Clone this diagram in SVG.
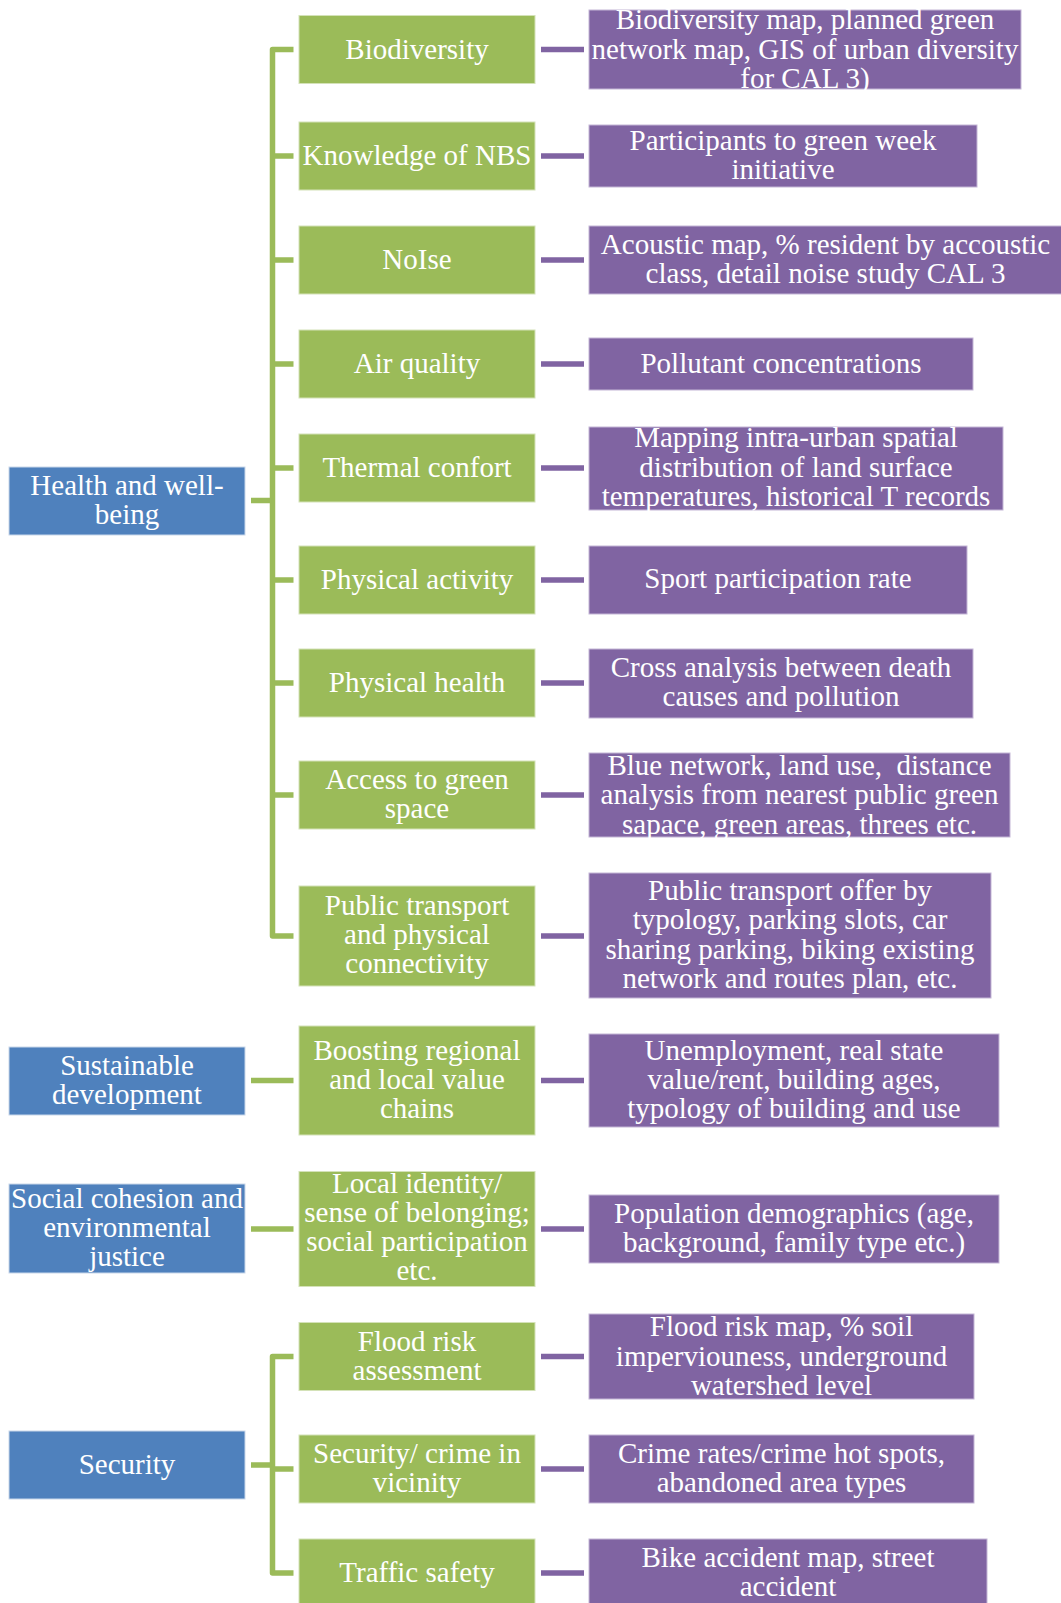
<svg xmlns="http://www.w3.org/2000/svg" width="1061" height="1603" viewBox="0 0 1061 1603">
  <style>
    .blue { fill: #4F81BD; stroke: #C9D7EA; stroke-width: 1; }
    .green { fill: #9BBB59; stroke: #D4E2B8; stroke-width: 1; }
    .purple { fill: #8064A2; stroke: #C4B6D6; stroke-width: 1; }
    .gl { fill: none; stroke: #9BBB59; stroke-width: 5.5; stroke-linejoin: round; }
    .pl { fill: none; stroke: #8064A2; stroke-width: 5.5; }
    text { font-family: "Liberation Serif", "Times New Roman", serif; font-size: 29px; fill: #FFFFFF; text-anchor: middle; }
  </style>
  <rect width="1061" height="1603" fill="#FFFFFF"/>

  <!-- connectors -->
  <g id="connectors">
    <!-- Health and well-being branch -->
    <path class="gl" d="M251 500.5 H272.5 M293.5 49.5 H272.5 V936 H293.5 M272.5 156 H293.5 M272.5 260 H293.5 M272.5 364 H293.5 M272.5 468 H293.5 M272.5 580 H293.5 M272.5 683 H293.5 M272.5 795 H293.5"/>
    <!-- Sustainable development -->
    <path class="gl" d="M251 1080.5 H293.5"/>
    <!-- Social cohesion -->
    <path class="gl" d="M251 1229 H293.5"/>
    <!-- Security branch -->
    <path class="gl" d="M251 1465 H272.5 M293.5 1356.5 H272.5 V1573 H293.5 M272.5 1469 H293.5"/>
    <!-- indicator links -->
    <path class="pl" d="M541 49.5 H584 M541 156 H584 M541 260 H584 M541 364 H584 M541 468 H584 M541 580 H584 M541 683 H584 M541 795 H584 M541 936 H584 M541 1080.5 H584 M541 1229 H584 M541 1356.5 H584 M541 1469 H584 M541 1573 H584"/>
  </g>

  <!-- themes -->
  <g id="theme-health">
    <rect class="blue" x="9" y="467" width="236" height="68"/>
    <text x="127" y="495">Health and well-</text>
    <text x="127" y="524">being</text>
  </g>
  <g id="theme-sustainable">
    <rect class="blue" x="9" y="1047" width="236" height="68"/>
    <text x="127" y="1075">Sustainable</text>
    <text x="127" y="1104">development</text>
  </g>
  <g id="theme-social">
    <rect class="blue" x="9" y="1184" width="236" height="89"/>
    <text x="127" y="1208">Social cohesion and</text>
    <text x="127" y="1237">environmental</text>
    <text x="127" y="1266">justice</text>
  </g>
  <g id="theme-security">
    <rect class="blue" x="9" y="1431" width="236" height="68"/>
    <text x="127" y="1474">Security</text>
  </g>

  <!-- challenges -->
  <g id="ch-biodiversity">
    <rect class="green" x="299" y="15.5" width="236" height="68"/>
    <text x="417" y="59">Biodiversity</text>
  </g>
  <g id="ch-knowledge">
    <rect class="green" x="299" y="122" width="236" height="68"/>
    <text x="417" y="165">Knowledge of NBS</text>
  </g>
  <g id="ch-noise">
    <rect class="green" x="299" y="226" width="236" height="68"/>
    <text x="417" y="269">NoIse</text>
  </g>
  <g id="ch-air">
    <rect class="green" x="299" y="330" width="236" height="68"/>
    <text x="417" y="373">Air quality</text>
  </g>
  <g id="ch-thermal">
    <rect class="green" x="299" y="434" width="236" height="68"/>
    <text x="417" y="477">Thermal confort</text>
  </g>
  <g id="ch-activity">
    <rect class="green" x="299" y="546" width="236" height="68"/>
    <text x="417" y="589">Physical activity</text>
  </g>
  <g id="ch-health">
    <rect class="green" x="299" y="649" width="236" height="68"/>
    <text x="417" y="692">Physical health</text>
  </g>
  <g id="ch-green-space">
    <rect class="green" x="299" y="761" width="236" height="68"/>
    <text x="417" y="789">Access to green</text>
    <text x="417" y="818">space</text>
  </g>
  <g id="ch-transport">
    <rect class="green" x="299" y="886" width="236" height="100"/>
    <text x="417" y="915">Public transport</text>
    <text x="417" y="944">and physical</text>
    <text x="417" y="973">connectivity</text>
  </g>
  <g id="ch-value-chains">
    <rect class="green" x="299" y="1026" width="236" height="109"/>
    <text x="417" y="1060">Boosting regional</text>
    <text x="417" y="1089">and local value</text>
    <text x="417" y="1118">chains</text>
  </g>
  <g id="ch-identity">
    <rect class="green" x="299" y="1171.5" width="236" height="115"/>
    <text x="417" y="1193">Local identity/</text>
    <text x="417" y="1222">sense of belonging;</text>
    <text x="417" y="1251">social participation</text>
    <text x="417" y="1280">etc.</text>
  </g>
  <g id="ch-flood">
    <rect class="green" x="299" y="1322.5" width="236" height="68"/>
    <text x="417" y="1351">Flood risk</text>
    <text x="417" y="1380">assessment</text>
  </g>
  <g id="ch-crime">
    <rect class="green" x="299" y="1435" width="236" height="68"/>
    <text x="417" y="1463">Security/ crime in</text>
    <text x="417" y="1492">vicinity</text>
  </g>
  <g id="ch-traffic">
    <rect class="green" x="299" y="1539" width="236" height="68"/>
    <text x="417" y="1582">Traffic safety</text>
  </g>

  <!-- indicators -->
  <g id="ind-biodiversity">
    <rect class="purple" x="589" y="10" width="432" height="79"/>
    <text x="805" y="29">Biodiversity map, planned green</text>
    <text x="805" y="58.5">network map, GIS of urban diversity</text>
    <text x="805" y="88">for CAL 3)</text>
  </g>
  <g id="ind-knowledge">
    <rect class="purple" x="589" y="125" width="388" height="62"/>
    <text x="783" y="150">Participants to green week</text>
    <text x="783" y="179">initiative</text>
  </g>
  <g id="ind-noise">
    <rect class="purple" x="589" y="226" width="473" height="68"/>
    <text x="825.5" y="254">Acoustic map, % resident by accoustic</text>
    <text x="825.5" y="283">class, detail noise study CAL 3</text>
  </g>
  <g id="ind-air">
    <rect class="purple" x="589" y="338" width="384" height="52"/>
    <text x="781" y="373">Pollutant concentrations</text>
  </g>
  <g id="ind-thermal">
    <rect class="purple" x="589" y="427" width="414" height="83"/>
    <text x="796" y="447">Mapping intra-urban spatial</text>
    <text x="796" y="476.5">distribution of land surface</text>
    <text x="796" y="506">temperatures, historical T records</text>
  </g>
  <g id="ind-activity">
    <rect class="purple" x="589" y="546" width="378" height="68"/>
    <text x="778" y="588">Sport participation rate</text>
  </g>
  <g id="ind-health">
    <rect class="purple" x="589" y="649" width="384" height="69"/>
    <text x="781" y="677">Cross analysis between death</text>
    <text x="781" y="706">causes and pollution</text>
  </g>
  <g id="ind-green-space">
    <rect class="purple" x="589" y="753" width="421" height="84"/>
    <text x="799.5" y="774.5" xml:space="preserve">Blue network, land use,  distance</text>
    <text x="799.5" y="804">analysis from nearest public green</text>
    <text x="799.5" y="833.5">sapace, green areas, threes etc.</text>
  </g>
  <g id="ind-transport">
    <rect class="purple" x="589" y="873" width="402" height="125"/>
    <text x="790" y="900">Public transport offer by</text>
    <text x="790" y="929.3">typology, parking slots, car</text>
    <text x="790" y="958.6">sharing parking, biking existing</text>
    <text x="790" y="988">network and routes plan, etc.</text>
  </g>
  <g id="ind-value-chains">
    <rect class="purple" x="589" y="1034" width="410" height="93"/>
    <text x="794" y="1060">Unemployment, real state</text>
    <text x="794" y="1089">value/rent, building ages,</text>
    <text x="794" y="1118">typology of building and use</text>
  </g>
  <g id="ind-identity">
    <rect class="purple" x="589" y="1195" width="410" height="68"/>
    <text x="794" y="1223">Population demographics (age,</text>
    <text x="794" y="1252">background, family type etc.)</text>
  </g>
  <g id="ind-flood">
    <rect class="purple" x="589" y="1314" width="385" height="85"/>
    <text x="781.5" y="1336">Flood risk map, % soil</text>
    <text x="781.5" y="1365.5">imperviouness, underground</text>
    <text x="781.5" y="1395">watershed level</text>
  </g>
  <g id="ind-crime">
    <rect class="purple" x="589" y="1435" width="385" height="68"/>
    <text x="781.5" y="1463">Crime rates/crime hot spots,</text>
    <text x="781.5" y="1492">abandoned area types</text>
  </g>
  <g id="ind-traffic">
    <rect class="purple" x="589" y="1539" width="398" height="68"/>
    <text x="788" y="1567">Bike accident map, street</text>
    <text x="788" y="1596">accident</text>
  </g>
</svg>
